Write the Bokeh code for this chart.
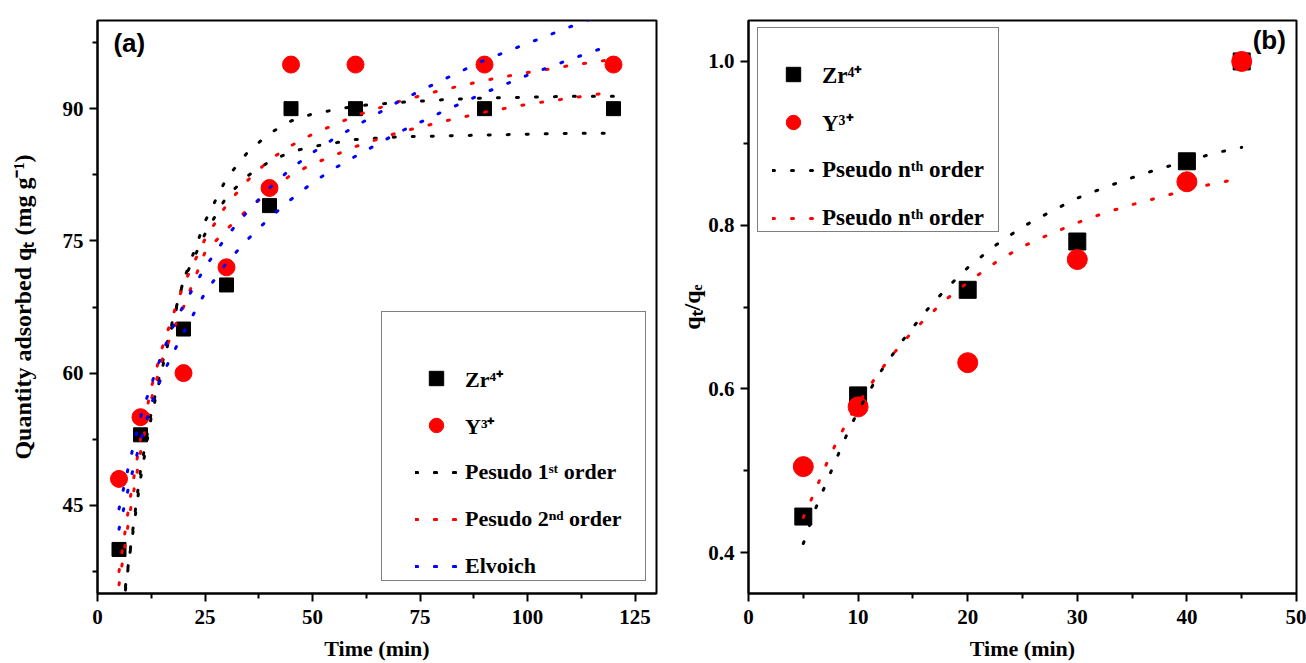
from bokeh.plotting import figure
from bokeh.layouts import row
from bokeh.models import FixedTicker, Legend, LegendItem, Label, Range1d, PrintfTickFormatter
from bokeh.embed import file_html
from bokeh.resources import INLINE

# ---------------- Panel (a): kinetics ----------------
time_a = [5, 10, 20, 30, 40, 45, 60, 90, 120]
zr_a = [40, 53, 65, 70, 79, 90, 90, 90, 90]
y_a = [48, 55, 60, 72, 81, 95, 95, 95, 95]

pfo_t = [6.5, 7.5, 10, 12.5, 15, 17.5, 20, 25, 30, 35, 40, 45, 50, 60, 70, 80, 90, 100, 110, 120]
pfo_upper = [35.4, 39.4, 48.0, 55.0, 60.4, 65.7, 70.5, 77.2, 82.1, 85.1, 87.2, 88.6, 89.4, 90.3, 90.7, 91.0, 91.2, 91.3, 91.4, 91.4]
pfo_lower = [35.8, 39.5, 49.0, 55.5, 61.0, 66.0, 70.5, 75.8, 80.0, 82.4, 84.0, 85.1, 85.7, 86.5, 86.8, 86.9, 87.0, 87.1, 87.2, 87.2]

pso_t = [5, 7.5, 10, 12.5, 15, 17.5, 20, 25, 30, 35, 40, 45, 50, 60, 70, 80, 90, 100, 110, 120]
pso_upper = [37.5, 45.5, 52.5, 58.3, 62.8, 66.5, 70.0, 75.2, 79.1, 81.9, 84.2, 85.8, 87.1, 89.2, 90.8, 92.1, 93.2, 94.1, 94.9, 95.6]
pso_lower = [36.0, 44.0, 51.0, 57.0, 61.5, 64.8, 67.5, 73.7, 76.3, 78.6, 80.6, 82.5, 83.7, 85.7, 87.3, 88.5, 89.6, 90.5, 91.2, 91.9]

elo_t = [5, 7.5, 10, 12.5, 15, 17.5, 20, 25, 30, 35, 40, 45, 50, 55, 60, 70, 80, 90, 100, 110, 120]
elo_upper = [44.6, 50.0, 55.0, 58.7, 62.2, 65.2, 67.7, 72.0, 75.5, 78.4, 81.0, 83.2, 85.0, 86.6, 88.0, 90.8, 93.2, 95.5, 97.4, 99.3, 101.2]
elo_lower = [42.3, 47.6, 52.3, 56.5, 59.7, 62.2, 64.6, 69.1, 72.5, 75.2, 77.6, 79.7, 81.6, 83.2, 84.6, 87.3, 89.6, 91.8, 93.8, 95.6, 97.3]

xticks_a = [0, 25, 50, 75, 100, 125]
xminor_a = [12.5, 37.5, 62.5, 87.5, 112.5]
yticks_a = [45, 60, 75, 90]
yminor_a = [37.5, 52.5, 67.5, 82.5, 97.5]

# ---------------- Panel (b): pseudo n-th order ----------------
time_b = [5, 10, 20, 30, 40, 45]
zr_b = [0.444, 0.592, 0.721, 0.780, 0.878, 1.0]
y_b = [0.505, 0.578, 0.632, 0.758, 0.853, 1.0]

pno_t = [5, 6, 7, 8, 9, 10, 12, 14, 16, 18, 20, 22.5, 25, 27.5, 30, 32.5, 35, 37.5, 40, 42.5, 45]
pno_zr = [0.411, 0.450, 0.482, 0.514, 0.545, 0.573, 0.620, 0.658, 0.692, 0.722, 0.748, 0.775, 0.798, 0.816, 0.833, 0.846, 0.858, 0.869, 0.878, 0.888, 0.895]
pno_y = [0.443, 0.473, 0.505, 0.534, 0.560, 0.582, 0.622, 0.656, 0.684, 0.709, 0.730, 0.754, 0.774, 0.789, 0.803, 0.815, 0.825, 0.834, 0.843, 0.851, 0.857]

xticks_b = [0, 10, 20, 30, 40, 50]
xminor_b = [5, 15, 25, 35, 45]
yticks_b = [0.4, 0.6, 0.8, 1.0]
yminor_b = [0.5, 0.7, 0.9]

SERIF = "Liberation Serif"
DOT = "2 17"


def style(p, xt, xm, yt, ym, xlabel, ylabel, ylabel_standoff):
    p.xgrid.visible = False
    p.ygrid.visible = False
    p.outline_line_color = "black"
    p.outline_line_width = 2
    p.xaxis.ticker = FixedTicker(ticks=xt, minor_ticks=xm)
    p.yaxis.ticker = FixedTicker(ticks=yt, minor_ticks=ym)
    for ax in (p.xaxis[0], p.yaxis[0]):
        ax.axis_line_width = 2
        ax.major_tick_line_width = 2
        ax.minor_tick_line_width = 2
        ax.major_tick_out = 8
        ax.major_tick_in = 0
        ax.minor_tick_out = 5
        ax.minor_tick_in = 0
        ax.major_label_text_font = SERIF
        ax.major_label_text_font_style = "bold"
        ax.major_label_text_font_size = "21px"
        ax.major_label_text_color = "black"
        ax.axis_label_text_font = SERIF
        ax.axis_label_text_font_style = "bold"
        ax.axis_label_text_color = "black"
    p.xaxis.axis_label = xlabel
    p.yaxis.axis_label = ylabel
    p.xaxis.axis_label_text_font_size = "22px"
    p.yaxis.axis_label_text_font_size = "24px"
    p.xaxis.major_label_standoff = 8
    p.yaxis.major_label_standoff = 6
    p.xaxis.axis_label_standoff = 9
    p.yaxis.axis_label_standoff = ylabel_standoff


def legend_box(renderer, loc, w, h):
    # an empty legend entry used only as the framed, white legend background
    return Legend(items=[LegendItem(label=" ", renderers=[renderer])], location=loc,
                  margin=0, padding=0, glyph_width=1, glyph_height=1, label_standoff=0,
                  label_width=w, label_height=h, label_text_font_size="2px",
                  border_line_color="black", border_line_width=1.5,
                  background_fill_color="white", background_fill_alpha=1.0)


def legend_items(items, loc, spacing, font_size):
    return Legend(items=items, location=loc, margin=0, padding=0, spacing=spacing,
                  glyph_width=42, glyph_height=36, label_standoff=8,
                  label_text_font=SERIF, label_text_font_style="bold",
                  label_text_font_size=font_size, label_text_color="black",
                  border_line_alpha=0, background_fill_alpha=0)


# ---- figure (a)
p1 = figure(width=665, height=663, output_backend="svg", toolbar_location=None,
            x_range=Range1d(0, 130), y_range=Range1d(35, 100),
            min_border_left=97, min_border_right=9, min_border_top=13, min_border_bottom=66)
style(p1, xticks_a, xminor_a, yticks_a, yminor_a, "Time (min)",
      "Quantity adsorbed qₜ (mg g⁻¹)", 24)

r_zr_a = p1.scatter(time_a, zr_a, marker="square", size=14, color="black")
r_y_a = p1.scatter(time_a, y_a, marker="circle", size=17, color="red")
r_pfo1 = p1.line(pfo_t, pfo_upper, line_color="black", line_width=3, line_dash=DOT, line_cap="round")
r_pfo2 = p1.line(pfo_t, pfo_lower, line_color="black", line_width=3, line_dash=DOT, line_cap="round")
r_pso1 = p1.line(pso_t, pso_upper, line_color="red", line_width=3, line_dash=DOT, line_cap="round")
r_pso2 = p1.line(pso_t, pso_lower, line_color="red", line_width=3, line_dash=DOT, line_cap="round")
r_elo1 = p1.line(elo_t, elo_upper, line_color="blue", line_width=3, line_dash=DOT, line_cap="round")
r_elo2 = p1.line(elo_t, elo_lower, line_color="blue", line_width=3, line_dash=DOT, line_cap="round")
r_blank_a = p1.scatter(x=[], y=[], alpha=0)

p1.add_layout(legend_box(r_blank_a, (284, 12), 262, 268))
p1.add_layout(legend_items([
    LegendItem(label="Zr⁴⁺", renderers=[r_zr_a]),
    LegendItem(label="Y³⁺", renderers=[r_y_a]),
    LegendItem(label="Pesudo 1ˢᵗ order", renderers=[r_pfo1, r_pfo2]),
    LegendItem(label="Pesudo 2ⁿᵈ order", renderers=[r_pso1, r_pso2]),
    LegendItem(label="Elvoich", renderers=[r_elo1, r_elo2]),
], (318, 9), 11, "22px"))

p1.add_layout(Label(x=3.7, y=97.4, text="(a)", text_font="Liberation Sans",
                    text_font_style="bold", text_font_size="26px", text_baseline="middle",
                    text_color="black"))

# ---- figure (b)
p2 = figure(width=641, height=663, output_backend="svg", toolbar_location=None,
            x_range=Range1d(0, 50), y_range=Range1d(0.35, 1.05),
            min_border_left=83, min_border_right=10, min_border_top=20, min_border_bottom=65)
style(p2, xticks_b, xminor_b, yticks_b, yminor_b, "Time (min)", "qₜ/qₑ", 0)
p2.yaxis.formatter = PrintfTickFormatter(format="%.1f")

r_zr_b = p2.scatter(time_b, zr_b, marker="square", size=17, color="black")
r_y_b = p2.scatter(time_b, y_b, marker="circle", size=20, color="red")
r_pno1 = p2.line(pno_t, pno_zr, line_color="black", line_width=3, line_dash=DOT, line_cap="round")
r_pno2 = p2.line(pno_t, pno_y, line_color="red", line_width=3, line_dash=DOT, line_cap="round")
r_blank_b = p2.scatter(x=[], y=[], alpha=0)

p2.add_layout(legend_box(r_blank_b, (9, 361), 239, 203))
p2.add_layout(legend_items([
    LegendItem(label="Zr⁴⁺", renderers=[r_zr_b]),
    LegendItem(label="Y³⁺", renderers=[r_y_b]),
    LegendItem(label="Pseudo nᵗʰ order", renderers=[r_pno1]),
    LegendItem(label="Pseudo nᵗʰ order", renderers=[r_pno2]),
], (24, 357), 12, "23px"))

p2.add_layout(Label(x=46.0, y=1.026, text="(b)", text_font="Liberation Sans",
                    text_font_style="bold", text_font_size="26px", text_baseline="middle",
                    text_color="black"))

layout = row(p1, p2)
open("out.html", "w").write(file_html(layout, INLINE))
